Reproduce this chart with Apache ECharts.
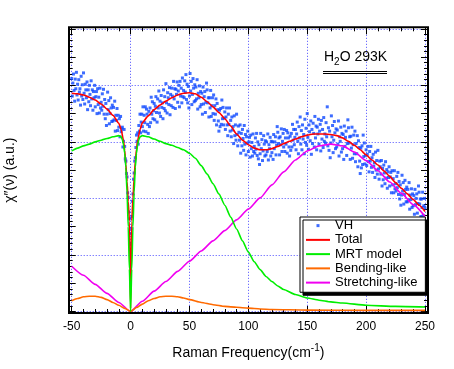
<!DOCTYPE html>
<html><head><meta charset="utf-8">
<script src="https://cdn.jsdelivr.net/npm/echarts@6/dist/echarts.min.js"></script>
<style>html,body{margin:0;padding:0;background:#fff}#c{width:454px;height:369px}</style>
</head><body><div id="c"></div>
<script>
const FONT = '"Liberation Sans", Arial, Helvetica, sans-serif';
// axis ranges
const xMin = -50, xMax = 250, xInterval = 50;
const yMin = 0, yMax = 5;
// VH measured points: x = vhStart + i*vhStep
const vhStart = -50, vhStep = 0.5;
const vhY = [
4.12,3.81,4.04,4.20,3.91,3.72,4.11,3.94,4.23,3.83,
4.02,3.74,4.10,3.88,3.94,3.65,4.16,3.81,4.01,3.75,
4.22,3.86,3.67,4.02,3.92,3.78,4.06,3.57,3.92,3.71,
4.00,3.84,3.64,4.08,3.76,3.92,3.56,3.89,3.78,4.00,
3.62,3.80,3.89,3.50,3.94,3.66,3.79,3.51,3.95,3.60,
3.70,3.56,3.85,3.63,3.93,3.49,3.75,3.41,3.68,3.29,
3.49,3.88,3.57,3.73,3.32,3.50,3.78,3.60,3.36,3.65,
3.37,3.61,3.39,3.72,3.19,3.47,3.38,3.59,3.20,3.47,
3.26,3.41,3.09,3.45,3.18,3.23,3.26,2.91,3.01,3.22,
2.92,2.70,2.66,2.44,2.38,2.10,2.02,1.76,1.64,1.38,
1.20,1.47,1.68,1.95,2.08,2.34,2.45,2.66,2.72,2.90,
3.12,3.01,3.16,2.96,3.29,3.19,3.49,3.16,3.35,3.49,
3.27,3.62,3.19,3.47,3.34,3.62,3.18,3.58,3.49,3.31,
3.15,3.54,3.27,3.60,3.34,3.79,3.49,3.71,3.41,3.55,
3.68,3.39,3.63,3.80,3.52,3.35,3.76,3.60,3.90,3.51,
3.72,3.45,3.82,3.61,3.69,3.41,3.92,3.59,3.80,3.55,
4.03,3.69,3.51,3.87,3.78,3.66,3.96,3.48,3.84,3.64,
3.95,3.81,3.61,4.07,3.76,3.94,3.59,3.93,3.84,4.06,
3.70,3.90,4.00,3.62,4.07,3.81,3.95,3.69,4.13,3.80,
3.91,3.78,4.08,3.88,4.19,3.75,4.02,3.69,3.98,3.60,
3.81,4.21,3.90,4.07,3.66,3.84,4.12,3.95,3.71,4.01,
3.73,3.97,3.76,4.10,3.58,3.86,3.78,3.99,3.62,3.89,
3.66,3.86,3.49,3.97,3.67,3.80,3.89,3.52,3.70,4.04,
3.92,3.69,3.78,3.44,3.78,3.60,3.91,3.45,3.64,3.78,
3.50,3.83,3.38,3.64,3.49,3.76,3.30,3.68,3.57,3.37,
3.19,3.56,3.27,3.59,3.31,3.74,3.41,3.61,3.30,3.42,
3.53,3.22,3.44,3.60,3.30,3.11,3.49,3.31,3.60,3.19,
3.38,3.09,3.44,3.21,3.27,2.97,3.46,3.11,3.30,3.03,
3.49,3.13,2.93,3.28,3.17,3.03,3.30,2.80,3.15,2.93,
3.22,3.06,2.85,3.29,2.96,3.13,2.77,3.09,2.98,3.19,
2.83,3.00,3.08,2.73,3.12,2.88,2.99,2.75,3.14,2.83,
2.92,2.80,3.07,2.87,3.15,2.76,3.00,2.70,2.95,2.60,
2.79,3.15,2.88,3.04,2.67,2.84,3.11,2.96,2.75,3.02,
2.77,3.00,2.83,3.14,2.68,2.95,2.88,3.08,2.75,3.01,
2.81,3.00,2.69,3.13,2.88,3.00,3.09,2.77,2.94,3.27,
3.17,2.97,3.07,2.77,3.09,2.95,3.23,2.83,3.01,3.15,
2.91,3.22,2.83,3.07,2.96,3.20,2.80,3.16,3.07,2.91,
2.75,3.10,2.85,3.15,2.91,3.31,3.03,3.22,2.95,3.08,
3.22,2.86,3.14,3.35,3.01,2.79,3.27,3.07,3.44,2.96,
3.20,2.86,3.30,3.05,3.13,2.79,3.40,2.99,3.24,2.94,
3.50,3.08,2.87,3.30,3.18,3.02,3.37,2.78,3.22,2.97,
3.33,3.15,2.91,3.45,3.07,3.28,2.86,3.26,3.14,3.40,
2.96,3.19,3.31,2.84,3.38,3.05,3.22,2.90,3.43,3.01,
3.14,2.98,3.34,3.09,3.62,2.93,3.25,2.85,3.19,2.72,
2.98,3.46,3.09,3.29,2.81,3.03,3.36,3.16,2.88,3.23,
2.91,3.21,2.96,3.37,2.75,3.09,3.01,3.26,2.82,3.15,
2.88,3.13,2.69,3.28,2.92,3.08,3.19,2.76,2.97,3.39,
3.25,2.98,3.09,2.69,3.10,2.89,3.26,2.71,2.95,3.12,
2.79,3.19,2.65,2.97,2.79,3.11,2.56,3.02,2.90,2.66,
2.44,2.89,2.54,2.93,2.60,3.12,2.74,2.98,2.61,2.76,
2.86,2.58,2.78,2.92,2.65,2.47,2.83,2.66,2.92,2.55,
2.72,2.46,2.78,2.57,2.63,2.37,2.82,2.50,2.67,2.43,
2.85,2.52,2.34,2.66,2.56,2.43,2.67,2.22,2.53,2.33,
2.59,2.45,2.26,2.65,2.36,2.51,2.18,2.47,2.37,2.56,
2.22,2.38,2.46,2.10,2.49,2.24,2.35,2.10,2.49,2.17,
2.26,2.13,2.39,2.19,2.46,2.07,2.30,1.99,2.24,1.88,
2.06,2.41,2.13,2.28,1.90,2.07,2.32,2.16,1.94,2.20,
1.94,2.16,1.97,2.28,1.81,2.06,1.98,2.17,1.84,2.08,
1.87,2.05,1.72,2.16,1.89,2.00,2.08,1.74,1.91,2.22,
2.11,1.90,1.99,1.68,1.99,1.84,2.11,1.70,1.87,2.00,
1.83
];
// Total fit
const totalX = [-50,-45,-40,-35,-30,-25,-20,-15,-10,-8,-6,-5,-4,-3,-2,-1,0,1,2,3,4,5,6,8,10,15,20,25,30,35,40,45,50,55,60,65,70,75,80,85,90,95,100,105,110,115,120,125,130,135,140,145,150,155,160,165,170,175,180,185,190,195,200,205,210,215,220,225,230,235,240,245,250];
const totalY = [3.86,3.85,3.83,3.79,3.74,3.67,3.58,3.47,3.33,3.22,3.02,2.85,2.60,2.30,1.95,1.60,0.05,1.60,2.00,2.35,2.65,2.87,3.02,3.22,3.34,3.46,3.57,3.65,3.72,3.78,3.83,3.86,3.87,3.85,3.79,3.71,3.62,3.52,3.41,3.28,3.14,3.03,2.95,2.89,2.86,2.86,2.88,2.92,2.97,3.01,3.05,3.09,3.12,3.14,3.14,3.14,3.13,3.11,3.07,3.01,2.94,2.86,2.77,2.68,2.59,2.49,2.39,2.28,2.18,2.08,1.98,1.88,1.77];
// MRT model
const mrtX = [-50,-45,-40,-35,-30,-25,-20,-15,-10,-8,-7,-6,-5,-4,-3,-2,-1,0,1,2,3,4,5,6,7,8,10,15,20,25,30,35,40,45,50,55,60,65,70,75,80,85,90,95,100,105,110,115,120,125,130,140,150,160,170,180,200,225,250];
const mrtY = [2.84,2.89,2.93,2.96,3.00,3.03,3.06,3.09,3.11,3.09,3.04,2.95,2.80,2.55,2.10,1.50,0.75,0.00,0.75,1.50,2.10,2.55,2.80,2.95,3.04,3.09,3.11,3.09,3.05,3.01,2.97,2.94,2.90,2.86,2.80,2.71,2.58,2.43,2.26,2.08,1.88,1.67,1.46,1.25,1.05,0.88,0.74,0.62,0.53,0.45,0.39,0.30,0.24,0.20,0.17,0.15,0.11,0.09,0.08];
// Bending-like
const bendX = [-50,-45,-40,-35,-30,-25,-20,-15,-10,-5,0,5,10,15,20,25,30,35,40,45,50,60,70,80,90,100,110,120,150,200,250];
const bendY = [0.19,0.23,0.26,0.27,0.27,0.25,0.21,0.16,0.11,0.055,0.00,0.07,0.13,0.19,0.23,0.26,0.27,0.27,0.26,0.24,0.21,0.16,0.12,0.09,0.075,0.06,0.045,0.035,0.025,0.02,0.02];
// Stretching-like
const strX = [-50,-40,-30,-20,-10,0,10,20,30,40,50,60,70,80,90,100,110,120,130,140,150,160,170,180,190,200,210,220,230,240,250];
const strY = [0.80,0.64,0.48,0.32,0.16,0.00,0.18,0.36,0.53,0.71,0.89,1.07,1.25,1.43,1.62,1.81,2.01,2.24,2.47,2.68,2.84,2.93,2.96,2.93,2.82,2.67,2.49,2.29,2.09,1.89,1.68];
const legendNames = ['VH','Total','MRT model','Bending-like','Stretching-like'];
const colors = {VH:'#0d47ff', Total:'#ff0000', MRT:'#00ee00', Bend:'#ff6a00', Str:'#f000f0'};

const pairs = (xs, ys) => xs.map((x, i) => [x, ys[i]]);
const vhData = vhY.map((y, i) => [vhStart + i * vhStep, y]);
const lineSeries = (name, xs, ys, color, z) => ({
  name, type: 'line', data: pairs(xs, ys), symbol: 'none', showSymbol: false,
  smooth: 0.2, smoothMonotone: 'x', silent: true, z,
  lineStyle: { color, width: 1.6 }, itemStyle: { color }
});

const tickCol = '#000';
const gridCol = '#4a4aff';
const noLine = { show: false, onZero: false };
const hidden = { color: 'rgba(0,0,0,0)', borderColor: 'rgba(0,0,0,0)', borderWidth: 0 };
const chart = echarts.init(document.getElementById('c'), null, { renderer: 'canvas' });
chart.setOption({
  animation: false,
  backgroundColor: '#fff',
  grid: { left: 71.7, right: 29, top: 28.8, bottom: 57.5, containLabel: false, outerBoundsMode: 'none' },
  xAxis: [
    { type: 'value', min: xMin, max: xMax, interval: xInterval, position: 'bottom', offset: 1.5,
      axisLine: noLine,
      axisTick: { inside: true, length: 7, lineStyle: { color: tickCol } },
      minorTick: { show: true, splitNumber: 5, length: 4, lineStyle: { color: tickCol } },
      axisLabel: { color: '#000', fontSize: 12, fontFamily: FONT, margin: 8 },
      splitLine: { show: true, lineStyle: { color: gridCol, type: [1, 2], width: 1 } },
      name: 'Raman Frequency(cm{sup|-1})', nameLocation: 'middle', nameGap: 30,
      nameTextStyle: { color: '#000', fontSize: 14, fontFamily: FONT, lineHeight: 20,
        rich: { sup: { fontSize: 10, fontFamily: FONT, color: '#000', verticalAlign: 'top', lineHeight: 10 } } }
    },
    { type: 'value', min: xMin, max: xMax, interval: xInterval, position: 'top', offset: 1.5,
      axisLine: noLine, axisLabel: { show: false }, splitLine: { show: false },
      axisTick: { inside: true, length: 7, lineStyle: { color: tickCol } },
      minorTick: { show: true, splitNumber: 5, length: 4, lineStyle: { color: tickCol } }
    }
  ],
  yAxis: [
    { type: 'value', min: yMin, max: yMax, interval: 0.5, position: 'left', offset: 3,
      axisLine: noLine, axisLabel: { show: false }, splitLine: { show: false },
      axisTick: { inside: true, length: 7, lineStyle: { color: tickCol } },
      minorTick: { show: true, splitNumber: 5, length: 4, lineStyle: { color: tickCol } },
      name: 'χ\u2033(ν) (a.u.)', nameLocation: 'middle', nameGap: 52,
      nameTextStyle: { color: '#000', fontSize: 14, fontFamily: FONT }
    },
    { type: 'value', min: yMin, max: yMax, interval: 0.5, position: 'right', offset: 3,
      axisLine: noLine, axisLabel: { show: false }, splitLine: { show: false },
      axisTick: { inside: true, length: 7, lineStyle: { color: tickCol } },
      minorTick: { show: true, splitNumber: 5, length: 4, lineStyle: { color: tickCol } }
    },
    { type: 'value', min: yMin, max: yMax, interval: 1, position: 'left',
      axisLine: noLine, axisLabel: { show: false }, axisTick: { show: false },
      splitLine: { show: true, lineStyle: { color: gridCol, type: [1, 2], width: 1 } }
    }
  ],
  legend: {
    orient: 'vertical', left: 300, top: 217,
    padding: [1.5, 8, 2.5, 5], itemGap: 0,
    itemWidth: 24, itemHeight: 3,
    backgroundColor: '#fff', borderColor: '#000', borderWidth: 1,
    shadowColor: '#000', shadowBlur: 0, shadowOffsetX: 3, shadowOffsetY: 3,
    selectedMode: false,
    textStyle: { color: '#000', fontSize: 13, fontFamily: FONT, lineHeight: 14.25 },
    data: [
      { name: legendNames[0], icon: 'path://M0,0 M24,3 M10.5,0 L13.5,0 L13.5,3 L10.5,3 Z' },
      { name: legendNames[1], itemStyle: hidden },
      { name: legendNames[2], itemStyle: hidden },
      { name: legendNames[3], itemStyle: hidden },
      { name: legendNames[4], itemStyle: hidden }
    ]
  },
  graphic: [
    { type: 'rect', silent: true, z: 100,
      shape: { x: 69, y: 27.3, width: 359, height: 285.7 },
      style: { fill: 'none', stroke: '#000', lineWidth: 2 } },
    { type: 'text', silent: true, z: 100, left: 324, top: 47,
      style: { text: 'H{sub|2}O 293K', fill: '#000', fontSize: 14, fontFamily: FONT, lineHeight: 20,
        rich: { sub: { fontSize: 10, fontFamily: FONT, fill: '#000', verticalAlign: 'bottom', lineHeight: 10 } } } },
    { type: 'line', silent: true, z: 100, shape: { x1: 323, y1: 71.5, x2: 387, y2: 71.5 }, style: { stroke: '#000', lineWidth: 1 } },
    { type: 'line', silent: true, z: 100, shape: { x1: 323, y1: 73.5, x2: 387, y2: 73.5 }, style: { stroke: '#000', lineWidth: 1 } }
  ],
  series: [
    { name: 'VH', type: 'scatter', data: vhData, symbol: 'rect', symbolSize: 3, silent: true, z: 1,
      itemStyle: { color: colors.VH } },
    lineSeries('Stretching-like', strX, strY, colors.Str, 2),
    lineSeries('Bending-like', bendX, bendY, colors.Bend, 3),
    lineSeries('Total', totalX, totalY, colors.Total, 4),
    lineSeries('MRT model', mrtX, mrtY, colors.MRT, 5)
  ]
});
</script>
</body></html>
